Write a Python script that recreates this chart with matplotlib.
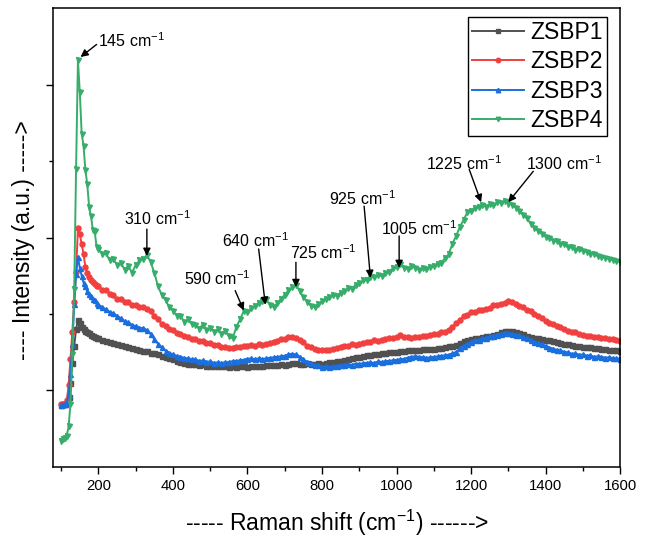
import numpy as np
import matplotlib

matplotlib.use("Agg")
import matplotlib.pyplot as plt

plt.rcParams["font.family"] = ["Liberation Sans", "DejaVu Sans"]
plt.rcParams["mathtext.fontset"] = "custom"
plt.rcParams["mathtext.rm"] = "Liberation Sans"
plt.rcParams["mathtext.default"] = "regular"

# Raman shift grid (cm-1)
shift = np.concatenate([np.arange(100, 200, 5), np.arange(200, 1601, 10)])

zsbp1 = [
    905, 910, 912, 925, 960, 1050, 1180, 1290, 1400, 1460,
    1440, 1415, 1400, 1392, 1385, 1373, 1366, 1358, 1352, 1346,
    1344, 1333, 1326, 1320, 1312, 1306, 1300, 1292, 1282, 1276,
    1272, 1268, 1260, 1255, 1247, 1242, 1236, 1228, 1222, 1215,
    1203, 1196, 1188, 1182, 1176, 1175, 1170, 1168, 1170, 1162,
    1163, 1160, 1162, 1158, 1160, 1156, 1158, 1155, 1158, 1157,
    1156, 1158, 1160, 1162, 1163, 1164, 1166, 1165, 1168, 1170,
    1169, 1175, 1182, 1178, 1176, 1174, 1177, 1175, 1176, 1178,
    1176, 1180, 1184, 1188, 1192, 1195, 1200, 1206, 1212, 1217,
    1222, 1226, 1230, 1234, 1238, 1241, 1244, 1248, 1250, 1253,
    1254, 1257, 1259, 1262, 1264, 1267, 1268, 1270, 1272, 1273,
    1274, 1277, 1280, 1284, 1288, 1293, 1300, 1313, 1322, 1330,
    1339, 1342, 1346, 1350, 1354, 1358, 1364, 1372, 1380, 1386,
    1391, 1391, 1384, 1376, 1368, 1358, 1352, 1346, 1340, 1336,
    1332, 1327, 1322, 1318, 1313, 1306, 1302, 1298, 1294, 1290,
    1287, 1284, 1282, 1280, 1277, 1274, 1272, 1268, 1266, 1264,
    1261,
]

zsbp2 = [
    909, 909, 915, 935, 1033, 1208, 1384, 1580, 1775, 2060,
    2020, 1958, 1893, 1808, 1769, 1743, 1723, 1710, 1697, 1684,
    1680, 1660, 1655, 1632, 1622, 1595, 1598, 1580, 1576, 1562,
    1562, 1545, 1543, 1530, 1518, 1488, 1465, 1435, 1420, 1402,
    1393, 1376, 1372, 1356, 1347, 1337, 1334, 1324, 1321, 1311,
    1308, 1298, 1295, 1285, 1283, 1278, 1275, 1282, 1285, 1290,
    1292, 1295, 1291, 1302, 1298, 1302, 1311, 1320, 1324, 1334,
    1337, 1347, 1350, 1346, 1330, 1315, 1292, 1282, 1272, 1268,
    1266, 1262, 1268, 1272, 1281, 1285, 1294, 1292, 1302, 1298,
    1307, 1311, 1315, 1318, 1327, 1324, 1333, 1338, 1340, 1346,
    1350, 1360, 1350, 1347, 1343, 1347, 1350, 1354, 1358, 1364,
    1367, 1369, 1380, 1382, 1398, 1415, 1438, 1462, 1484, 1493,
    1510, 1513, 1523, 1526, 1536, 1540, 1556, 1558, 1568, 1572,
    1582, 1578, 1568, 1552, 1543, 1526, 1517, 1500, 1490, 1475,
    1457, 1442, 1432, 1422, 1412, 1402, 1392, 1383, 1380, 1370,
    1366, 1357, 1354, 1350, 1347, 1344, 1340, 1337, 1334, 1331,
    1326,
]

zsbp3 = [
    902, 909, 909, 922, 974, 1111, 1306, 1567, 1762, 1873,
    1800, 1750, 1705, 1680, 1650, 1630, 1618, 1600, 1592, 1575,
    1562, 1545, 1530, 1512, 1505, 1488, 1472, 1455, 1447, 1428,
    1422, 1410, 1408, 1395, 1370, 1335, 1305, 1282, 1260, 1247,
    1236, 1226, 1222, 1213, 1210, 1204, 1203, 1194, 1197, 1188,
    1190, 1181, 1184, 1180, 1185, 1186, 1192, 1193, 1198, 1200,
    1207, 1210, 1205, 1210, 1206, 1210, 1213, 1217, 1220, 1224,
    1227, 1236, 1240, 1236, 1222, 1203, 1188, 1177, 1168, 1165,
    1155, 1158, 1154, 1157, 1162, 1164, 1168, 1170, 1167, 1176,
    1174, 1178, 1181, 1184, 1180, 1190, 1187, 1191, 1194, 1197,
    1200, 1204, 1206, 1215, 1220, 1224, 1221, 1217, 1214, 1216,
    1220, 1223, 1227, 1230, 1234, 1242, 1252, 1275, 1292, 1306,
    1318, 1327, 1330, 1340, 1344, 1353, 1356, 1366, 1370, 1379,
    1376, 1372, 1364, 1360, 1350, 1340, 1330, 1320, 1311, 1302,
    1292, 1281, 1274, 1266, 1262, 1253, 1250, 1240, 1242, 1234,
    1236, 1228, 1230, 1220, 1224, 1220, 1215, 1217, 1213, 1210,
    1208,
]

zsbp4 = [
    668, 681, 690, 705, 765, 915, 1240, 1665, 2450, 3160,
    2950, 2680, 2600, 2440, 2350, 2200, 2140, 2050, 2040, 1940,
    1925, 1890, 1900, 1850, 1860, 1820, 1835, 1790, 1815, 1770,
    1820, 1850, 1860, 1885, 1840, 1770, 1680, 1625, 1590, 1545,
    1520, 1490, 1488, 1450, 1465, 1435, 1430, 1405, 1430, 1395,
    1410, 1385, 1400, 1372, 1390, 1355, 1340, 1415, 1465, 1520,
    1515, 1540, 1550, 1575, 1585, 1595, 1560, 1545, 1570, 1600,
    1625, 1655, 1675, 1690, 1650, 1610, 1580, 1555, 1545, 1565,
    1585, 1600, 1610, 1625, 1620, 1640, 1650, 1668, 1665, 1690,
    1700, 1720, 1725, 1745, 1740, 1755, 1750, 1768, 1772, 1800,
    1805, 1825, 1800, 1795, 1812, 1800, 1790, 1800, 1795, 1810,
    1815, 1830, 1835, 1865, 1890, 1960, 2010, 2070, 2115, 2165,
    2175, 2195, 2200, 2215, 2200, 2220, 2210, 2230, 2228, 2240,
    2222, 2215, 2195, 2175, 2145, 2125, 2090, 2065, 2040, 2025,
    2005, 2000, 1980, 1975, 1955, 1955, 1935, 1935, 1920, 1922,
    1910, 1908, 1895, 1890, 1878, 1875, 1865, 1862, 1850, 1848,
    1840,
]

labels = ["ZSBP1", "ZSBP2", "ZSBP3", "ZSBP4"]
colors = ["#515151", "#F14040", "#1A6FDF", "#37AD6B"]
markers = ["s", "o", "^", "v"]

# peak annotations: label, text centre, arrow tail, arrow tip
peak_names = ["145", "310", "590", "640", "725", "925", "1005", "1225", "1300"]
peak_text = [(200, 3290), (358, 2125), (519, 1730), (621, 1977), (803, 1899),
             (908, 2251), (1061, 2055), (1182, 2485), (1450, 2485)]
peak_tail = [(195, 3262), (330, 2055), (567, 1653), (630, 1925), (730, 1838),
             (913, 2205), (1007, 2010), (1195, 2446), (1367, 2433)]
peak_tip = [(152, 3180), (330, 1880), (590, 1523), (648, 1560), (730, 1676),
            (930, 1736), (1007, 1801), (1227, 2231), (1300, 2231)]

fig = plt.figure(figsize=(6.5, 5.38), dpi=100)
ax = fig.add_axes([0.0815, 0.132, 0.8725, 0.853])

for y, lab, c, m in zip([zsbp1, zsbp2, zsbp3, zsbp4], labels, colors, markers):
    ax.plot(shift, y, color=c, marker=m, markersize=3.6, linewidth=1.4, label=lab)

for name, tp, tail, tip in zip(peak_names, peak_text, peak_tail, peak_tip):
    ax.annotate("", xy=tip, xytext=tail,
                arrowprops=dict(arrowstyle="-|>", color="black", lw=1,
                                mutation_scale=11, shrinkA=0, shrinkB=0))
    ha = "left" if name == "145" else "center"
    ax.text(tp[0], tp[1], name + " cm$^{-1}$", fontsize=11.5, ha=ha, va="center")

ax.set_xlim(78, 1600)
ax.set_ylim(500, 3500)
ax.set_xticks(np.arange(200, 1601, 200))
ax.set_xticks(np.arange(100, 1601, 100), minor=True)
ax.set_yticks([1000, 2000, 3000])
ax.set_yticks([1500, 2500], minor=True)
ax.set_yticklabels([])
ax.tick_params(axis="both", which="major", direction="out", length=5, width=1, labelsize=10.7)
ax.tick_params(axis="both", which="minor", direction="out", length=3, width=1)
for s in ax.spines.values():
    s.set_linewidth(1.1)

ax.set_xlabel("----- Raman shift (cm$^{-1}$) ------>", fontsize=16.5)
ax.xaxis.set_label_coords(0.5, -0.088)
ax.set_ylabel("---- Intensity (a.u.) ----->", fontsize=16.5)
ax.yaxis.set_label_coords(-0.031, 0.495)

leg = ax.legend(loc="upper right", bbox_to_anchor=(0.977, 0.981), borderaxespad=0,
                fontsize=16.5, fancybox=False, edgecolor="black", framealpha=1,
                handlelength=2.25, borderpad=0.18, labelspacing=0.28,
                handletextpad=0.3, markerscale=0.9)
leg.get_frame().set_linewidth(1)

fig.savefig("out.png", dpi=100)
